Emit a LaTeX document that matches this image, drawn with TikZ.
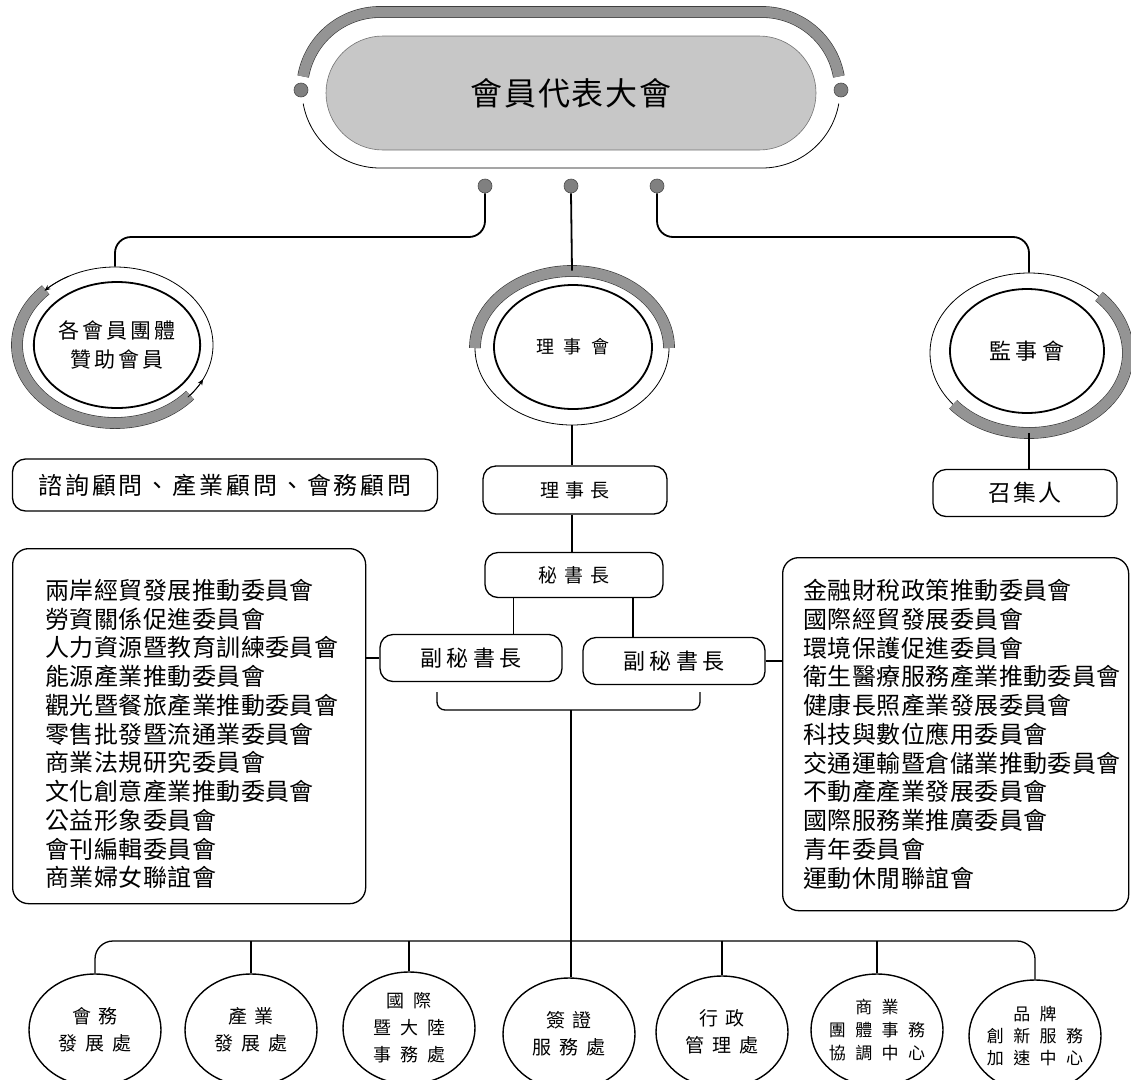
\documentclass[tikz,border=0pt]{standalone}
\usepackage{fontspec}
\setmainfont{Noto Sans CJK TC}
\usetikzlibrary{shapes.geometric,calc,arrows.meta}
\newcommand\fsz[3]{\fontsize{#1}{#2}\selectfont\addfontfeature{LetterSpace=#3}}
\begin{document}
\begin{tikzpicture}[x=1pt,y=-1pt,
  conn/.style={line width=1.8pt},
  thinconn/.style={line width=1.3pt},
  box/.style={draw, line width=1.3pt, rounded corners=13pt, inner sep=0pt, align=center},
  inell/.style={draw, ellipse, line width=1.8pt, inner sep=0pt, align=center},
  ringst/.style={draw, ellipse, line width=0.8pt, inner sep=0pt},
  band/.style={draw=black!80, line width=0.6pt, double=black!42, double distance=10.5pt},
  dotst/.style={circle, draw=black!70, fill=black!50, line width=0.6pt, minimum size=14pt, inner sep=0pt},
  botell/.style={draw, ellipse, line width=1.4pt, inner sep=0pt, minimum width=132pt, minimum height=112pt},
  bottxt/.style={inner sep=0pt, align=center},
  cyc/.style={line width=0.8pt, -{Stealth[length=6pt,width=5pt]}}
]
\useasboundingbox (0,0) rectangle (1131,1079);
\clip (0,0) rectangle (1131,1079);

% top assembly
\node[draw=black!55, line width=0.6pt, fill=black!22, rounded corners=57pt, minimum width=490pt, minimum height=114pt, inner sep=0pt, font={\fsz{32}{36}{6}}] (assembly) at (571,93) {會員代表大會};
\draw[band] ($(380,90)+(170:78pt)$) arc[start angle=170,end angle=90,radius=78pt] -- (762,12) arc[start angle=90,end angle=10,radius=78pt];
\draw[line width=0.8pt] ($(380,90)+(190:78pt)$) arc[start angle=190,end angle=270,radius=78pt] -- (762,168) arc[start angle=270,end angle=350,radius=78pt];
\node[dotst] (dL) at (301,90) {};
\node[dotst] (dR) at (841,90) {};
\node[dotst] (d1) at (485,186) {};
\node[dotst] (d2) at (571,186) {};
\node[dotst] (d3) at (657,186) {};

% three circles
\node[ringst, minimum width=196pt, minimum height=156pt] (Lring) at (115,345) {};
\draw[band] ($(Lring.center)+(135:98pt and 78pt)$) arc[start angle=135,end angle=320,x radius=98pt,y radius=78pt];
\draw[cyc] ($(Lring.center)+(118:98pt and 78pt)$) arc[start angle=118,end angle=136,x radius=98pt,y radius=78pt];
\draw[cyc] ($(Lring.center)+(318:98pt and 78pt)$) arc[start angle=318,end angle=334,x radius=98pt,y radius=78pt];
\node[inell, minimum width=164pt, minimum height=126pt, font={\fsz{21}{29}{15}}] (members) at (117,345) {各會員團體\\贊助會員};

\node[ringst, minimum width=194pt, minimum height=154pt] (Mring) at (572,348) {};
\draw[band] ($(Mring.center)+(180:97pt and 77pt)$) arc[start angle=180,end angle=0,x radius=97pt,y radius=77pt];
\node[inell, minimum width=158pt, minimum height=124pt, font={\fsz{18}{22}{55}}] (board) at (573,347) {理事會};

\node[ringst, minimum width=198pt, minimum height=160pt] (Rring) at (1029,353) {};
\draw[band] ($(Rring.center)+(-140:99pt and 80pt)$) arc[start angle=-140,end angle=45,x radius=99pt,y radius=80pt];
\node[inell, minimum width=154pt, minimum height=124pt, font={\fsz{22}{26}{20}}] (supv) at (1027,351) {監事會};

\coordinate (j1) at (485,237);
\coordinate (j3) at (657,237);
\draw[conn, rounded corners=16pt] (d1.south) -- (j1) -- (j1 -| Lring.north) -- (Lring.north);
\draw[conn] (d2.south) -- (Mring.north);
\draw[conn, rounded corners=16pt] (d3.south) -- (j3) -- (j3 -| Rring.north) -- (Rring.north);

% boxes
\node[box, minimum width=425pt, minimum height=52pt, font={\fsz{24}{28}{12}}] (advisors) at (225,485) {諮詢顧問、產業顧問、會務顧問};
\node[box, minimum width=184pt, minimum height=48pt, font={\fsz{19}{22}{30}}] (chair) at (575,490) {理事長};
\draw[conn] (Mring.south) -- (Mring.south |- chair.north);
\node[box, minimum width=184pt, minimum height=47pt, font={\fsz{23}{26}{10}}] (conv) at (1025,493) {召集人};
\draw[conn] (Rring.south) -- (Rring.south |- conv.north);
\node[box, minimum width=178pt, minimum height=45pt, font={\fsz{19}{22}{38}}] (sec) at (574,575) {秘書長};
\draw[conn] (chair.south -| Mring.south) -- (sec.north -| Mring.south);
\node[box, minimum width=182pt, minimum height=47pt, font={\fsz{22}{26}{20}}] (dep1) at (471,658) {副秘書長};
\node[box, minimum width=182pt, minimum height=47pt, font={\fsz{22}{26}{20}}] (dep2) at (674,661) {副秘書長};
\coordinate (s1) at ($(sec.south west)!0.163!(sec.south east)$);
\coordinate (s2) at ($(sec.south west)!0.83!(sec.south east)$);
\draw[conn] (s1) -- (s1 |- dep1.north);
\draw[conn] (s2) -- (s2 |- dep2.north);
\coordinate (b1) at (437,692);
\coordinate (b2) at (700,692);
\draw[thinconn, rounded corners=8pt] (b1) -- ++(0,18) -| (b2);
\coordinate (t0) at (571,710);

% lists
\node[box, rounded corners=16pt, minimum width=353pt, minimum height=355pt, anchor=north west] (listL) at (12,548) {};
\node[anchor=north west, align=left, inner sep=0pt, font={\fsz{24}{28.75}{2}}] (listLt) at (45,579) {兩岸經貿發展推動委員會\\勞資關係促進委員會\\人力資源暨教育訓練委員會\\能源產業推動委員會\\觀光暨餐旅產業推動委員會\\零售批發暨流通業委員會\\商業法規研究委員會\\文化創意產業推動委員會\\公益形象委員會\\會刊編輯委員會\\商業婦女聯誼會};
\node[box, rounded corners=16pt, minimum width=346pt, minimum height=353pt, anchor=north west] (listR) at (782,557) {};
\node[anchor=north west, align=left, inner sep=0pt, font={\fsz{24}{28.75}{2}}] (listRt) at (803,579) {金融財稅政策推動委員會\\國際經貿發展委員會\\環境保護促進委員會\\衛生醫療服務產業推動委員會\\健康長照產業發展委員會\\科技與數位應用委員會\\交通運輸暨倉儲業推動委員會\\不動產產業發展委員會\\國際服務業推廣委員會\\青年委員會\\運動休閒聯誼會};
\draw[thinconn] (dep1.west -| listL.east) -- (dep1.west);
\draw[thinconn] (dep2.east) -- (dep2.east -| listR.west);

% bottom units
\node[botell] (c1) at (95,1030) {};
\node[botell] (c2) at (251,1030) {};
\node[botell] (c3) at (409,1028) {};
\node[botell] (c4) at (569,1034) {};
\node[botell] (c5) at (722,1032) {};
\node[botell] (c6) at (877,1030) {};
\node[botell] (c7) at (1035,1036) {};
\node[bottxt, font={\fsz{19}{27}{40}}] (t1) at (c1.center) {會務\\發展處};
\node[bottxt, font={\fsz{19}{27}{40}}] (t2) at (c2.center) {產業\\發展處};
\node[bottxt, font={\fsz{18}{27}{50}}] (t3) at (c3.center) {國際\\暨大陸\\事務處};
\node[bottxt, font={\fsz{19}{27}{40}}] (t4) at (c4.center) {簽證\\服務處};
\node[bottxt, font={\fsz{19}{27}{40}}] (t5) at (c5.center) {行政\\管理處};
\node[bottxt, font={\fsz{17}{23}{55}}] (t6) at (c6.center) {商業\\團體事務\\協調中心};
\node[bottxt, font={\fsz{17}{22}{55}}] (t7) at (c7.center) {品牌\\創新服務\\加速中心};
\coordinate (bus) at (571,941);
\draw[thinconn, rounded corners=18pt] (c1.north) -- (c1.north |- bus) -- (c7.north |- bus) -- (c7.north);
\foreach \n in {c2,c3,c5,c6} \draw[thinconn] (\n.north |- bus) -- (\n.north);
\draw[conn] (t0) -- (t0 |- c4.north);
\end{tikzpicture}
\end{document}
